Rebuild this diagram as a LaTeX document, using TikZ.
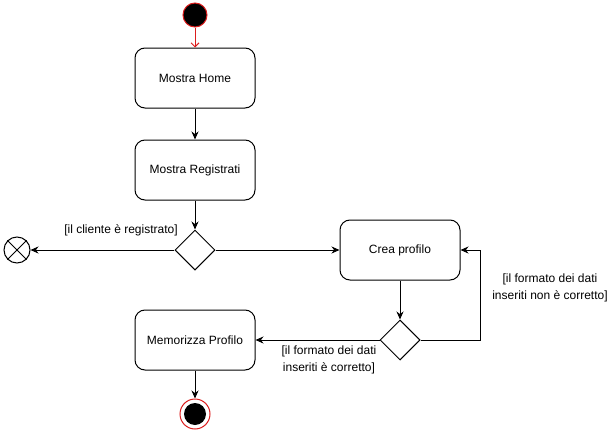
\documentclass[tikz,border=0pt]{standalone}
\usepackage{fontspec}
\setmainfont{Liberation Sans}
\usetikzlibrary{arrows.meta,shapes.geometric}
\definecolor{startred}{RGB}{220,30,30}
\begin{document}
\begin{tikzpicture}[x=1pt,y=-1pt,font=\fontsize{12}{14}\selectfont,line width=1pt,
  act/.style={draw,rounded corners=10pt,minimum width=120pt,minimum height=60pt,inner sep=0pt},
  dec/.style={draw,diamond,minimum width=40pt,minimum height=40pt,inner sep=0pt},
  arr/.style={-{Stealth[length=8pt,width=7pt]}},
  lbl/.style={align=center,inner sep=0pt,font=\fontsize{12}{17}\selectfont}]
\useasboundingbox (0,0) rectangle (611,431);
\node[circle,draw=startred,fill=black,minimum size=24pt,inner sep=0pt] (start) at (195,15) {};
\node[act] (home) at (195,78) {Mostra Home};
\node[act] (reg) at (195,170) {Mostra Registrati};
\node[dec] (d1) at (195,250) {};
\node[circle,draw,minimum size=26pt,inner sep=0pt] (ff) at (17,250) {};
\draw (ff.north east) -- (ff.south west) (ff.north west) -- (ff.south east);
\node[act] (crea) at (400,250) {Crea profilo};
\node[dec] (d2) at (400,340) {};
\node[act] (mem) at (195,340) {Memorizza Profilo};
\node[circle,draw=startred,minimum size=30pt,inner sep=0pt] (end) at (195,414) {};
\node[circle,fill=black,minimum size=22pt,inner sep=0pt] (endin) at (end.center) {};
\coordinate (c1) at (480,340);
\coordinate (c2) at (480,250);
\draw[startred,-{Straight Barb[length=4pt,width=8pt]}] (start) -- (home);
\draw[arr] (home) -- (reg);
\draw[arr] (reg) -- (d1);
\draw[arr] (d1) -- (ff);
\draw[arr] (d1) -- (crea);
\draw[arr] (crea) -- (d2);
\draw[arr] (d2.east) -- (c1) -- (c2) -- (crea.east);
\draw[arr] (d2) -- (mem);
\draw[arr] (mem) -- (end);
\node[lbl] (l1) at (121,230) {[il cliente è registrato]};
\node[lbl] (l2) at (550,288) {[il formato dei dati\\ inseriti non è corretto]};
\node[lbl] (l3) at (329,360) {[il formato dei dati\\ inseriti è corretto]};
\end{tikzpicture}
\end{document}
